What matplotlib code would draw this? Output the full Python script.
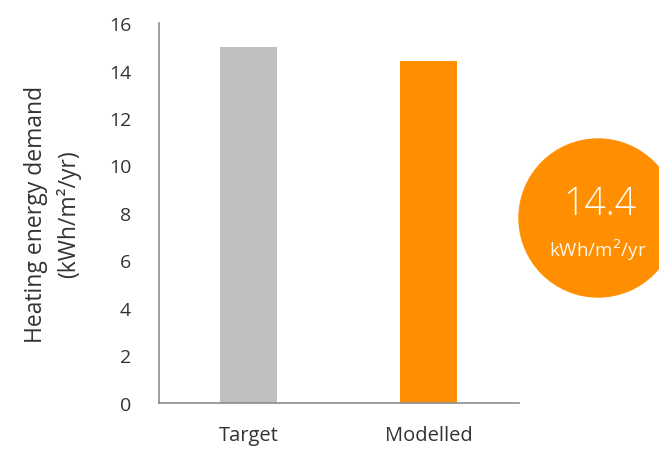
import matplotlib
matplotlib.use("Agg")
from matplotlib import pyplot as plt
from matplotlib.patches import Ellipse

plt.rcParams['font.family'] = ['Open Sans', 'DejaVu Sans']

## data
categories = ['Target', 'Modelled']
demand = [15.0, 14.4]
bar_colors = ['#BFBFBF', '#FF8F00']
headline = 14.4

fig = plt.figure(figsize=(6.59, 4.52), dpi=100)
ax = fig.add_axes([0.2413, 0.1062, 0.5455, 0.8407])

ax.bar(range(len(categories)), demand, width=0.317, color=bar_colors)
ax.set_xlim(-0.5, 1.5)
ax.set_ylim(0, 16)
ax.set_yticks(range(0, 17, 2))
ax.set_xticks(range(len(categories)))
ax.set_xticklabels(categories)
ax.tick_params(axis='both', length=0, labelsize=14, colors='#333333')
ax.tick_params(axis='x', labelsize=14.5, pad=16)
ax.tick_params(axis='y', pad=20)

for s in ['top', 'right']:
    ax.spines[s].set_visible(False)
for s in ['left', 'bottom']:
    ax.spines[s].set_color('#8C8C8C')
    ax.spines[s].set_linewidth(1.2)

ax.set_ylabel('Heating energy demand\n(kWh/m²/yr)', fontsize=16.5, color='#333333',
              labelpad=20, linespacing=1.4)

# headline circle
circ = Ellipse((598 / 659, 1 - 219 / 452), 158 / 659, 158 / 452,
               transform=fig.transFigure, color='#FF8F00', clip_on=False)
fig.patches.append(circ)
fig.text(600 / 659, 1 - 205 / 452, f'{headline:.1f}', ha='center', va='center',
         fontsize=27, color='white', fontweight='light')
fig.text(598 / 659, 1 - 250 / 452, 'kWh/m$^2$/yr', ha='center', va='center',
         fontsize=13.5, color='#FFF6EA')

fig.savefig('out.png', dpi=100)
